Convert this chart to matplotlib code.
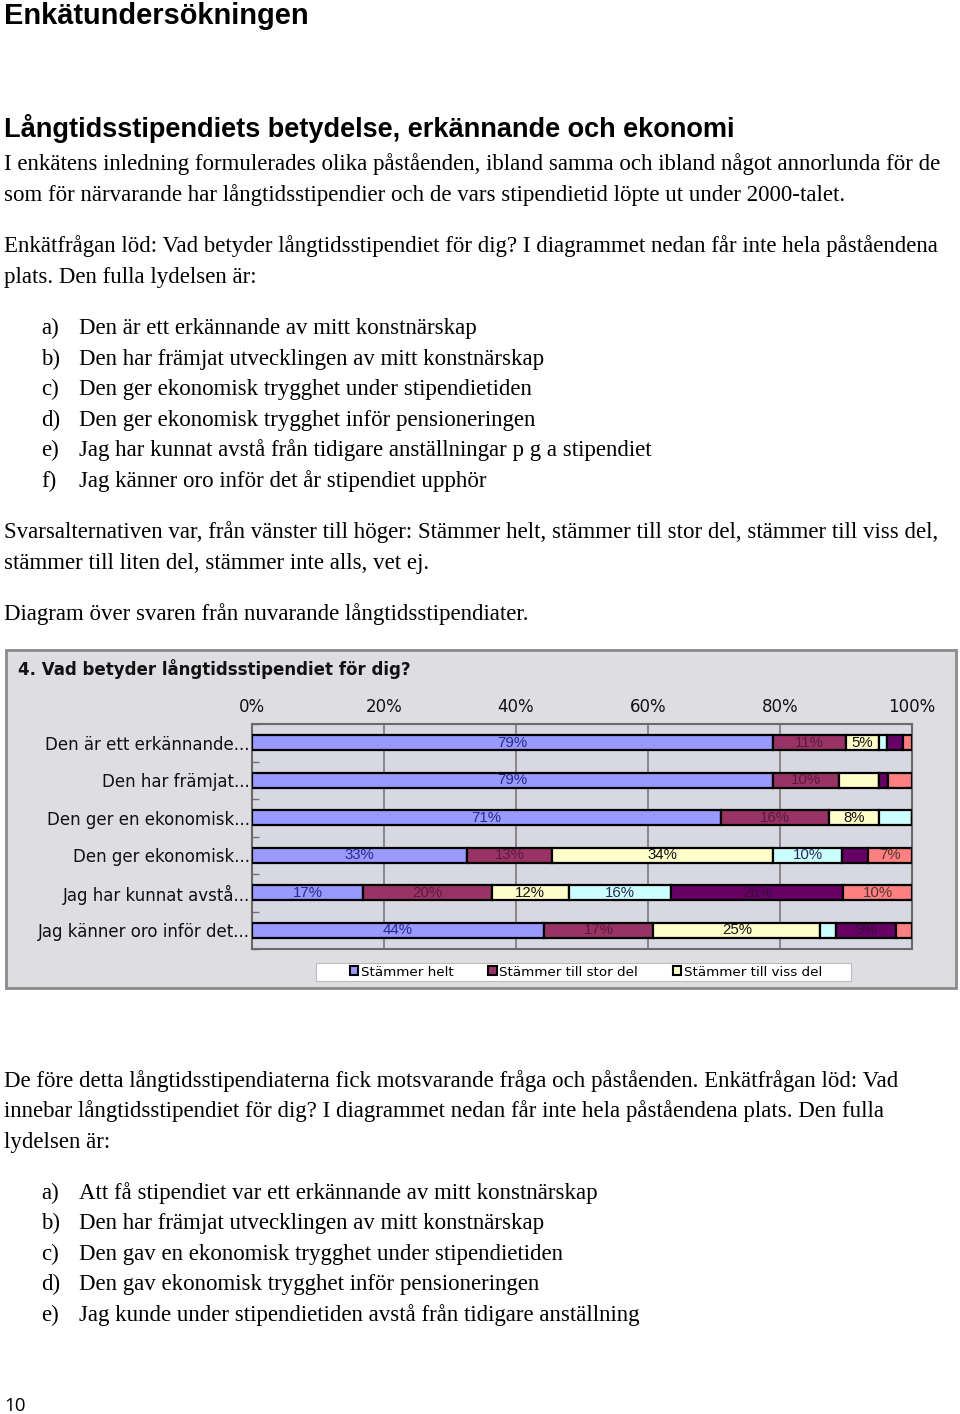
import matplotlib
matplotlib.use("Agg")
import matplotlib.pyplot as plt
from matplotlib.patches import Rectangle, Patch
import numpy as np

W, H = 960, 1414

# ---------------- data ----------------
categories = ["Den är ett erkännande...", "Den har främjat...", "Den ger en ekonomisk...",
              "Den ger ekonomisk...", "Jag har kunnat avstå...", "Jag känner oro inför det..."]
series_names = ["Stämmer helt", "Stämmer till stor del", "Stämmer till viss del",
                "Stämmer till liten del", "Stämmer inte alls", "Vet ej"]
stammer_helt = [79, 79, 71, 32.6, 16.8, 44.2]
stammer_stor = [11, 10, 16.4, 12.8, 19.5, 16.6]
stammer_viss = [5, 6, 7.6, 33.6, 11.7, 25.3]
stammer_liten = [1.2, 0, 5.0, 10.4, 15.5, 2.4]
stammer_inte = [2.5, 1.4, 0, 4.0, 26.1, 9.0]
vet_ej = [1.3, 3.6, 0, 6.6, 10.4, 2.5]
# which segments carry a value label in the original
show_helt = [1, 1, 1, 1, 1, 1]
show_stor = [1, 1, 1, 1, 1, 1]
show_viss = [1, 0, 1, 1, 1, 1]
show_liten = [0, 0, 0, 1, 1, 0]
show_inte = [0, 0, 0, 0, 1, 1]
show_vet = [0, 0, 0, 1, 1, 0]
xticks = [0, 20, 40, 60, 80, 100]

series = [stammer_helt, stammer_stor, stammer_viss, stammer_liten, stammer_inte, vet_ej]
shows = [show_helt, show_stor, show_viss, show_liten, show_inte, show_vet]
colors = ["#9999FF", "#993366", "#FFFFCC", "#CCFFFF", "#660066", "#FF8080"]
label_colors = ["#2a2a8a", "#5a1a3a", "#111111", "#2a2a5a", "#3a0a3a", "#553333"]

fig = plt.figure(figsize=(W / 100, H / 100), dpi=100)
fig.patch.set_facecolor("white")


def fx(x):
    return x / W


def fy(y):
    return 1 - y / H


def T(x, y, s, size=16.5, family="Liberation Serif", weight="normal", **kw):
    fig.text(fx(x), fy(y), s, fontsize=size, family=family, weight=weight,
             va="baseline", ha=kw.pop("ha", "left"), **kw)


# ---------------- page text ----------------
T(4, 24, "Enkätundersökningen", size=20.9, family="Liberation Sans", weight="bold")
T(4, 137, "Långtidsstipendiets betydelse, erkännande och ekonomi", size=19.5,
  family="Liberation Sans", weight="bold")

body = [
    (170, "I enkätens inledning formulerades olika påståenden, ibland samma och ibland något annorlunda för de"),
    (201, "som för närvarande har långtidsstipendier och de vars stipendietid löpte ut under 2000-talet."),
    (252, "Enkätfrågan löd: Vad betyder långtidsstipendiet för dig? I diagrammet nedan får inte hela påståendena"),
    (283, "plats. Den fulla lydelsen är:"),
    (538, "Svarsalternativen var, från vänster till höger: Stämmer helt, stämmer till stor del, stämmer till viss del,"),
    (569, "stämmer till liten del, stämmer inte alls, vet ej."),
    (620, "Diagram över svaren från nuvarande långtidsstipendiater."),
    (1087, "De före detta långtidsstipendiaterna fick motsvarande fråga och påståenden. Enkätfrågan löd: Vad"),
    (1117, "innebar långtidsstipendiet för dig? I diagrammet nedan får inte hela påståendena plats. Den fulla"),
    (1148, "lydelsen är:"),
]
for y, s in body:
    T(4, y, s)

list1 = [
    (334, "a)", "Den är ett erkännande av mitt konstnärskap"),
    (365, "b)", "Den har främjat utvecklingen av mitt konstnärskap"),
    (395, "c)", "Den ger ekonomisk trygghet under stipendietiden"),
    (426, "d)", "Den ger ekonomisk trygghet inför pensioneringen"),
    (456, "e)", "Jag har kunnat avstå från tidigare anställningar p g a stipendiet"),
    (487, "f)", "Jag känner oro inför det år stipendiet upphör"),
    (1199, "a)", "Att få stipendiet var ett erkännande av mitt konstnärskap"),
    (1229, "b)", "Den har främjat utvecklingen av mitt konstnärskap"),
    (1260, "c)", "Den gav en ekonomisk trygghet under stipendietiden"),
    (1290, "d)", "Den gav ekonomisk trygghet inför pensioneringen"),
    (1321, "e)", "Jag kunde under stipendietiden avstå från tidigare anställning"),
]
for y, a, s in list1:
    T(41, y, a)
    T(79, y, s)

T(4, 1411, "10", size=13.5, family="Open Sans")

# ---------------- chart frame ----------------
frame = Rectangle((fx(6), fy(988)), fx(950), 338 / H, transform=fig.transFigure,
                  facecolor="#DEDEE2", edgecolor="#8a8a8a", lw=2, zorder=0)
fig.patches.append(frame)
T(18, 675, "4. Vad betyder långtidsstipendiet för dig?", size=12, family="DejaVu Sans",
  weight="bold", color="#111111")

ax = fig.add_axes([fx(252), fy(949), 660 / W, 225 / H])
ax.set_zorder(2)
ax.set_facecolor("#D8D8E2")
y = np.arange(len(categories))
left = np.zeros(len(categories))
for vals, col, lc, sh in zip(series, colors, label_colors, shows):
    vals = np.array(vals, dtype=float)
    bc = ax.barh(y, vals, left=left, height=0.4, color=col, edgecolor="black",
                 linewidth=1.6, zorder=3)
    labels = [f"{v:.0f}%" if s else "" for v, s in zip(vals, sh)]
    ax.bar_label(bc, labels=labels, label_type="center", fontsize=10.8,
                 family="Liberation Sans", color=lc, zorder=4)
    left += vals

ax.set_xlim(0, 100)
ax.set_ylim(len(categories) - 0.5, -0.5)
ax.xaxis.tick_top()
ax.set_xticks(xticks)
ax.set_xticklabels([f"{t}%" for t in xticks], family="DejaVu Sans", fontsize=12)
ax.tick_params(axis="x", length=0, pad=6, colors="#111111")
ax.set_yticks(y)
ax.set_yticklabels(categories, family="DejaVu Sans", fontsize=12)
ax.tick_params(axis="y", length=0, pad=1.5, colors="#111111")
ax.set_yticks(np.arange(len(categories) + 1) - 0.5, minor=True)
ax.tick_params(axis="y", which="minor", length=5, direction="in", color="#707070", width=1)
ax.grid(axis="x", color="#7a7a7a", lw=1.2, zorder=1)
for sp in ax.spines.values():
    sp.set_color("#6a6a6a")
    sp.set_linewidth(1.5)

# legend
legbox = Rectangle((fx(316), fy(980.5)), fx(535), 18 / H, transform=fig.transFigure,
                   facecolor="white", edgecolor="#bbbbbb", lw=0.8, zorder=1)
fig.patches.append(legbox)
handles = [Patch(facecolor=colors[i], edgecolor="black", linewidth=1.5) for i in range(3)]
leg = fig.legend(handles, series_names[:3], loc="center", bbox_to_anchor=(fx(586), fy(972)),
                 ncol=3, frameon=False, handlelength=0.6, handleheight=0.6, handletextpad=0.2,
                 columnspacing=2.6, prop={"family": "DejaVu Sans", "size": 9.7}, borderpad=0)
leg.set_zorder(5)

fig.savefig("out.png", dpi=100, facecolor="white")
